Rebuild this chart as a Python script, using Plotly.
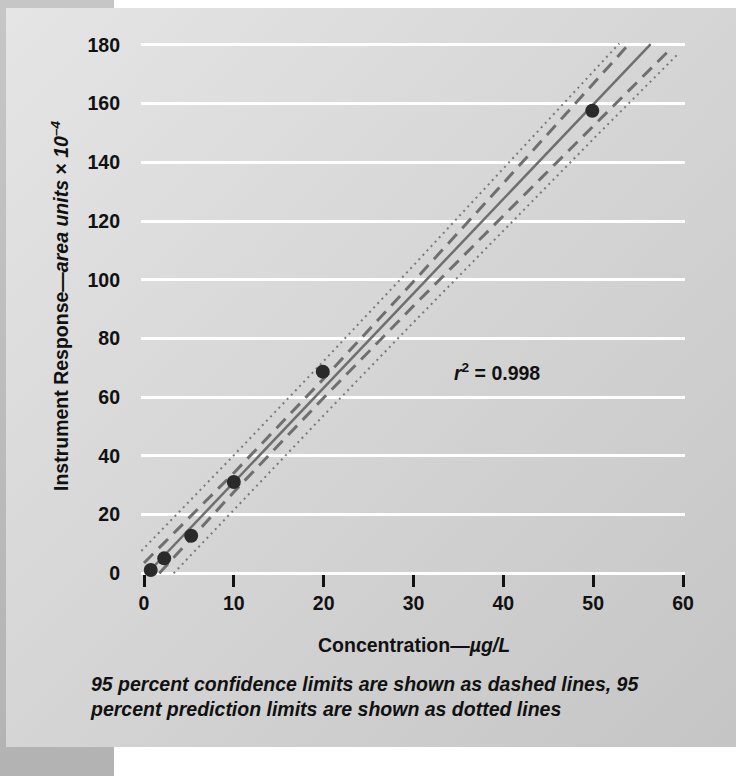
import base64
import plotly.graph_objects as go

# ---- data ----
conc = [0.75, 2.25, 5.25, 10.0, 19.9, 49.9]
response = [1.1, 5.1, 12.8, 31.1, 68.7, 157.6]

fit_x = [0.4, 56.4]
fit_y = [0.1, 180.3]

conf_upper_x = [0.0, 10, 20, 30, 40, 50, 53.9]
conf_upper_y = [3.5, 34.2, 66.3, 99.4, 132.9, 166.7, 180.0]
conf_lower_x = [1.7, 10, 20, 30, 40, 50, 58.4]
conf_lower_y = [0.0, 27.7, 59.8, 91.1, 121.8, 152.4, 178.0]

pred_upper_x = [-0.3, 10, 20, 30, 40, 50, 52.9]
pred_upper_y = [7.6, 40.2, 72.3, 104.9, 137.9, 170.8, 180.5]
pred_lower_x = [3.3, 10, 20, 30, 40, 50, 59.3]
pred_lower_y = [0.0, 21.7, 53.8, 85.5, 116.8, 147.9, 176.5]

x_ticks = [0, 10, 20, 30, 40, 50, 60]
y_ticks = [0, 20, 40, 60, 80, 100, 120, 140, 160, 180]
r2_text = "0.998"

# ---- layout geometry ----
W, H = 736, 776
ML, MR, MT, MB = 141, 51, 42, 202
PW, PH = W - ML - MR, H - MT - MB

FONT = "Liberation Sans, Arial, sans-serif"
FS = 19.5

svg = f"""<svg xmlns='http://www.w3.org/2000/svg' width='{W}' height='{H}' viewBox='0 0 {W} {H}' preserveAspectRatio='none'>
<defs>
<linearGradient id='s' x1='0' y1='0' x2='0' y2='1'><stop offset='0' stop-color='#c6c6c6'/><stop offset='1' stop-color='#b3b3b3'/></linearGradient>
<linearGradient id='p' x1='0' y1='0' x2='1' y2='1'><stop offset='0' stop-color='#e5e5e5'/><stop offset='1' stop-color='#c5c5c5'/></linearGradient>
</defs>
<rect width='{W}' height='{H}' fill='#ffffff'/>
<rect x='0' y='0' width='114' height='{H}' fill='url(#s)'/>
<rect x='6' y='8' width='730' height='739' fill='url(#p)'/>
</svg>"""
src = "data:image/svg+xml;base64," + base64.b64encode(svg.encode()).decode()

fig = go.Figure()

line_col = "#6f6f6f"
fig.add_trace(go.Scatter(x=pred_upper_x, y=pred_upper_y, mode="lines",
                         line=dict(color="#7a7a7a", width=2, dash="2px,4px"), hoverinfo="skip"))
fig.add_trace(go.Scatter(x=pred_lower_x, y=pred_lower_y, mode="lines",
                         line=dict(color="#7a7a7a", width=2, dash="2px,4px"), hoverinfo="skip"))
fig.add_trace(go.Scatter(x=conf_upper_x, y=conf_upper_y, mode="lines",
                         line=dict(color=line_col, width=3, dash="13px,8px"), hoverinfo="skip"))
fig.add_trace(go.Scatter(x=conf_lower_x, y=conf_lower_y, mode="lines",
                         line=dict(color=line_col, width=3, dash="13px,8px"), hoverinfo="skip"))
fig.add_trace(go.Scatter(x=fit_x, y=fit_y, mode="lines",
                         line=dict(color=line_col, width=2.5), hoverinfo="skip"))
fig.add_trace(go.Scatter(x=conc, y=response, mode="markers",
                         marker=dict(size=14, color="#2a2a2a"), cliponaxis=False))

fig.update_layout(
    width=W, height=H,
    margin=dict(l=ML, r=MR, t=MT, b=MB, pad=0),
    paper_bgcolor="white",
    plot_bgcolor="rgba(0,0,0,0)",
    showlegend=False,
    font=dict(family=FONT, size=FS, color="#111111", weight="bold"),
    images=[dict(source=src, xref="paper", yref="paper",
                 x=-ML / PW, y=1 + MT / PH, sizex=W / PW, sizey=H / PH,
                 xanchor="left", yanchor="top", sizing="stretch", layer="below")],
    xaxis=dict(range=[-0.334, 60.22], tickvals=x_ticks, ticktext=[str(v) for v in x_ticks],
               showgrid=False, zeroline=False, showline=False,
               ticks="outside", ticklen=12, tickwidth=2.5, tickcolor="#111111",
               tickfont=dict(size=FS, family=FONT, weight="bold")),
    yaxis=dict(range=[-0.24, 181.0], tickvals=y_ticks, ticktext=[str(v) for v in y_ticks],
               showgrid=True, gridcolor="white", gridwidth=3,
               zeroline=True, zerolinecolor="white", zerolinewidth=3,
               showline=False, ticks="", ticklabelstandoff=20,
               tickfont=dict(size=FS, family=FONT, weight="bold")),
    annotations=[
        dict(text="<i>r</i><sup>2</sup> = " + r2_text, xref="paper", yref="paper",
             x=(497 - ML) / PW, y=1 - (372 - MT) / PH, xanchor="center", yanchor="middle",
             showarrow=False, font=dict(size=FS, family=FONT, weight="bold")),
        dict(text="Concentration—<i>µg/L</i>", xref="paper", yref="paper",
             x=(414 - ML) / PW, y=1 - (645 - MT) / PH, xanchor="center", yanchor="middle",
             showarrow=False, font=dict(size=FS, family=FONT, weight="bold")),
        dict(text="Instrument Response—<i>area units</i> × <i>10</i><sup><i>–4</i></sup>",
             xref="paper", yref="paper", textangle=-90,
             x=(60 - ML) / PW, y=1 - (306 - MT) / PH, xanchor="center", yanchor="middle",
             showarrow=False, font=dict(size=FS, family=FONT, weight="bold")),
        dict(text="<i>95 percent confidence limits are shown as dashed lines, 95<br>"
                  "percent prediction limits are shown as dotted lines</i>",
             xref="paper", yref="paper", align="left",
             x=(88 - ML) / PW, y=1 - (671 - MT) / PH, xanchor="left", yanchor="top",
             showarrow=False, font=dict(size=FS, family=FONT, weight="bold")),
    ],
)

fig.write_html("out.html")
